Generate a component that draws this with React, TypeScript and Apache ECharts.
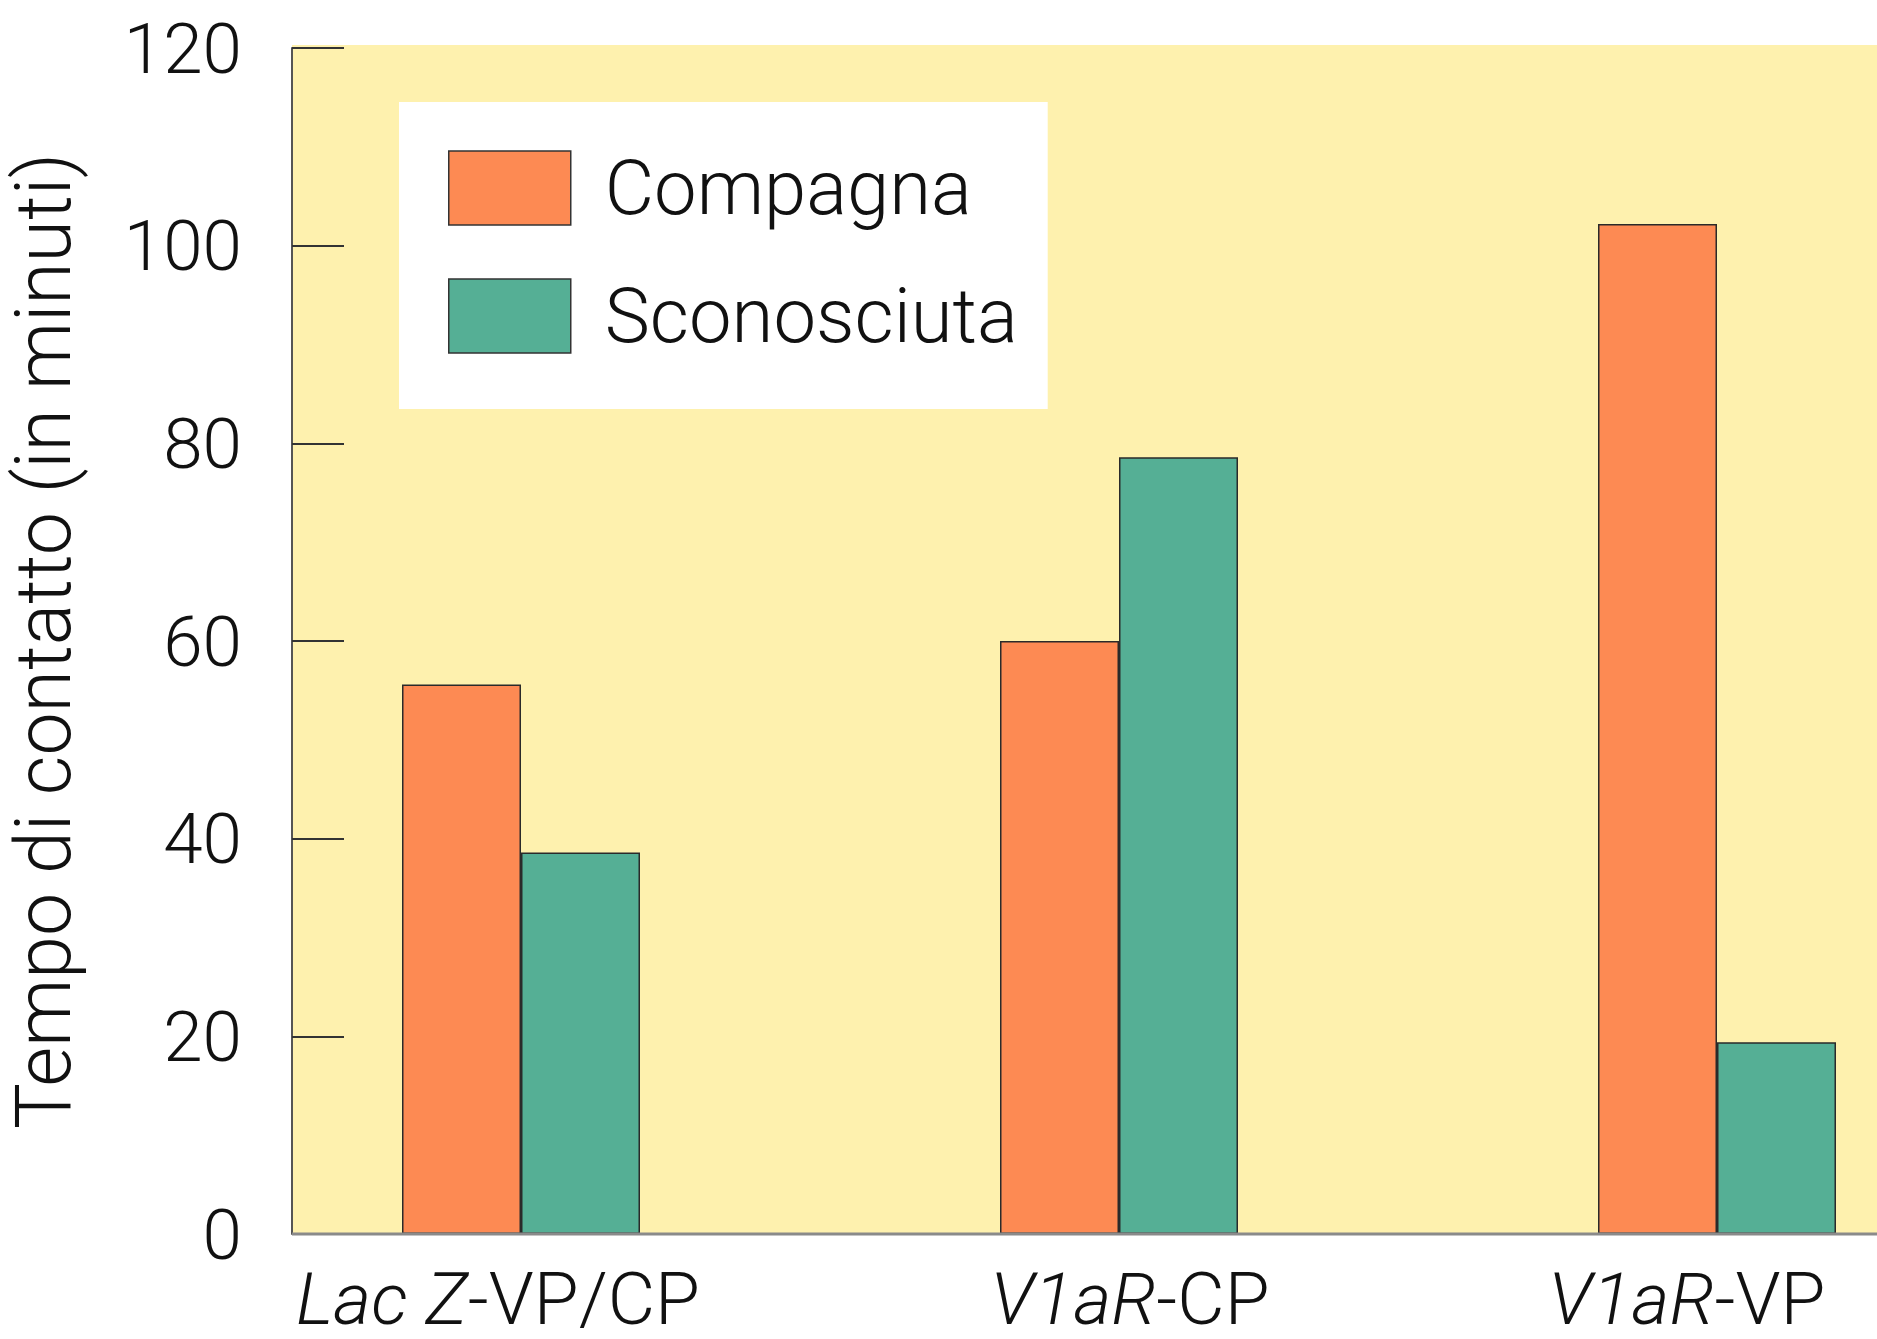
import React, { useEffect, useRef } from "react";
import * as echarts from "echarts";

const categories = ["Lac Z-VP/CP", "V1aR-CP", "V1aR-VP"];
const italicParts = ["Lac Z", "V1aR", "V1aR"];
const seriesNames = ["Compagna", "Sconosciuta"];
const compagna = [55.6, 60, 102.2];
const sconosciuta = [38.6, 78.6, 19.4];
const yTicks = [0, 20, 40, 60, 80, 100, 120];
const yTitle = "Tempo di contatto (in minuti)";

const W = 1877;
const H = 1339;
const AXIS_X = 292;
const TOP = 48;
const BASE_Y = 1234;
const GRID_LEFT = 222;
const GRID_W = 1794;
const FONT = "Roboto";
const YELLOW = "#FEF1AE";
const ORANGE = "#FD8A53";
const GREEN = "#55AF95";
// horizontal nudges of category labels (px, negative = left)
const labelShift = [-23, 11, -30];

export default function App() {
  const ref = useRef<HTMLDivElement>(null);
  useEffect(() => {
    if (!ref.current) return;
    const chart = echarts.init(ref.current, undefined, { renderer: "svg" });
    const option: any = {
      animation: false,
      backgroundColor: "#ffffff",
      grid: {
        left: GRID_LEFT,
        top: TOP,
        width: GRID_W,
        height: BASE_Y - TOP,
        outerBoundsMode: "none",
        containLabel: false,
      },
      graphic: [
        {
          type: "rect",
          z: -10,
          shape: { x: AXIS_X, y: TOP - 3, width: W - AXIS_X, height: BASE_Y - TOP + 3 },
          style: { fill: YELLOW },
        },
        {
          type: "line",
          z: 10,
          shape: { x1: AXIS_X, y1: BASE_Y, x2: W, y2: BASE_Y },
          style: { stroke: "#8a8a8a", lineWidth: 3 },
        },
      ],
      legend: {
        orient: "vertical",
        left: 399,
        top: 102,
        backgroundColor: "#ffffff",
        padding: [48, 30, 55, 49],
        itemWidth: 122,
        itemHeight: 74,
        itemGap: 52,
        icon: "rect",
        data: seriesNames,
        textStyle: {
          fontFamily: FONT,
          fontSize: 76,
          fontWeight: 300,
          color: "#111",
          lineHeight: 74,
          padding: [0, 0, 0, 29],
        },
        itemStyle: { borderColor: "#333", borderWidth: 1.5 },
      },
      xAxis: {
        type: "category",
        data: categories.map((c, i) => ({
          value: c,
          textStyle: {
            padding: labelShift[i] < 0 ? [0, -2 * labelShift[i], 0, 0] : [0, 0, 0, 2 * labelShift[i]],
          },
        })),
        axisLine: { show: false },
        axisTick: { show: false },
        axisLabel: {
          margin: 37,
          formatter: (v: string) => {
            const idx = categories.indexOf(v);
            const it = italicParts[idx];
            const rest = v.slice(it.length);
            return `{i|${it}}{n|${rest}}`;
          },
          rich: {
            i: { fontFamily: FONT, fontSize: 73, lineHeight: 56, fontWeight: 300, fontStyle: "italic", color: "#111" },
            n: { fontFamily: FONT, fontSize: 73, lineHeight: 56, fontWeight: 300, color: "#111" },
          },
        },
      },
      yAxis: {
        type: "value",
        min: yTicks[0],
        max: yTicks[yTicks.length - 1],
        interval: 20,
        offset: -(AXIS_X - GRID_LEFT),
        name: yTitle,
        nameLocation: "middle",
        nameGap: 210,
        nameTextStyle: { fontFamily: FONT, fontSize: 77, fontWeight: 300, color: "#111" },
        axisLine: { show: true, lineStyle: { color: "#555", width: 2 } },
        axisTick: { show: true, inside: true, length: 52, lineStyle: { color: "#333", width: 2 } },
        axisLabel: { margin: 50, fontFamily: FONT, fontSize: 71, fontWeight: 300, color: "#111" },
        splitLine: { show: false },
      },
      series: [
        {
          name: seriesNames[0],
          type: "bar",
          data: compagna,
          barWidth: 119,
          barGap: "0%",
          itemStyle: { color: ORANGE, borderColor: "#2a2a2a", borderWidth: 1.5 },
        },
        {
          name: seriesNames[1],
          type: "bar",
          data: sconosciuta,
          barWidth: 119,
          barGap: "0%",
          itemStyle: { color: GREEN, borderColor: "#2a2a2a", borderWidth: 1.5 },
        },
      ],
    };
    chart.setOption(option);
    return () => chart.dispose();
  }, []);
  return (
    <div
      ref={ref}
      style={{ position: "fixed", left: 0, top: 0, width: W, height: H, background: "#fff" }}
    />
  );
}
